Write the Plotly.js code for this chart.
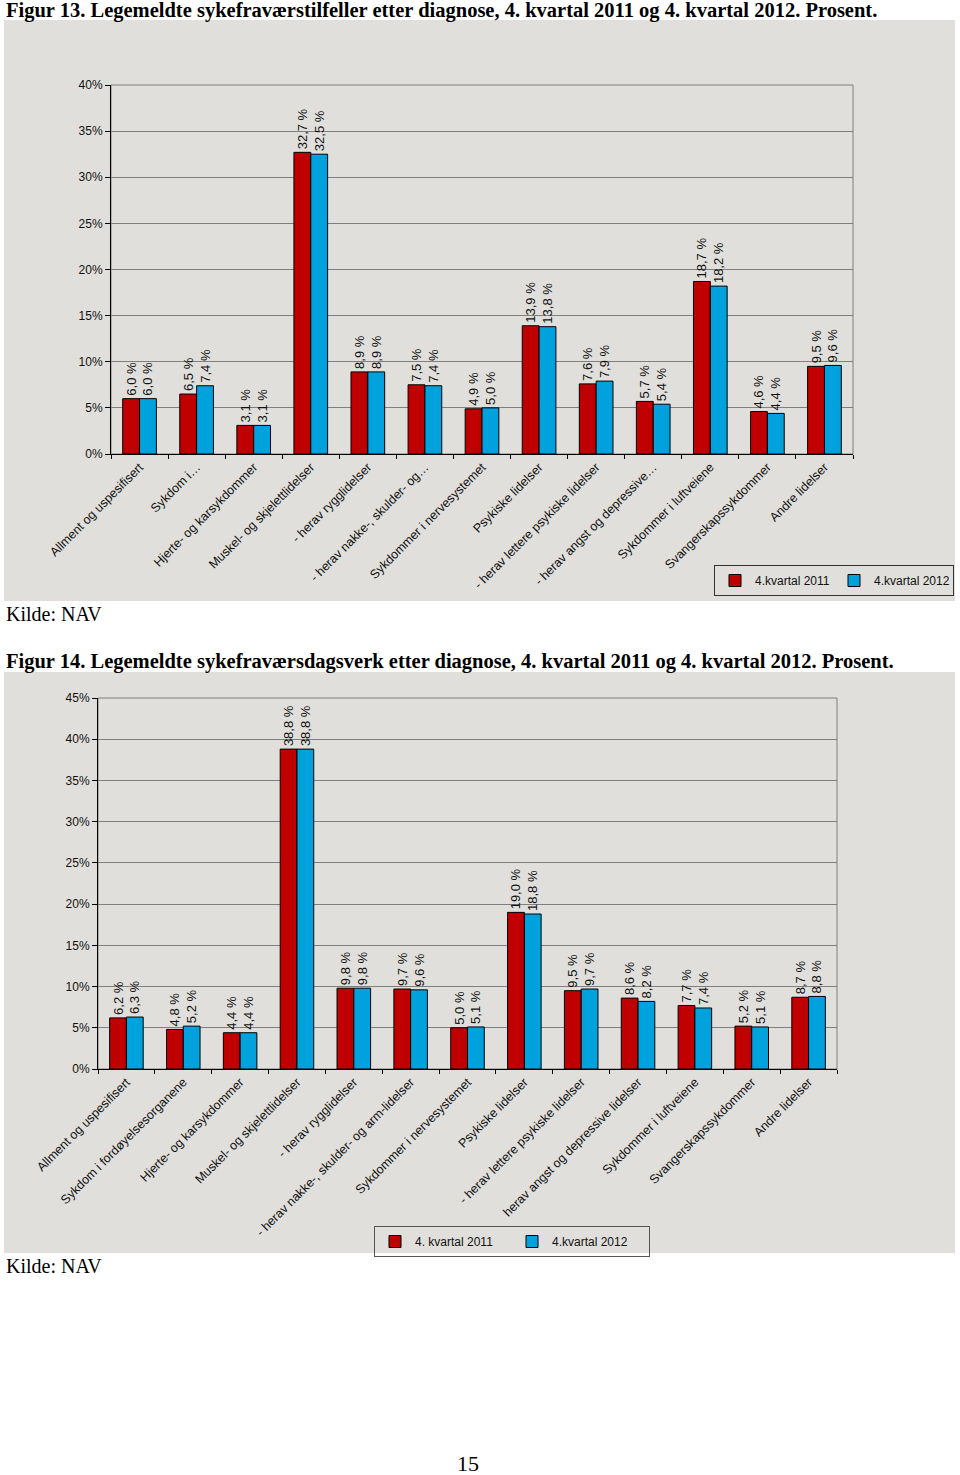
<!DOCTYPE html>
<html><head><meta charset="utf-8">
<script src="https://cdn.plot.ly/plotly-3.0.1.min.js"></script>
<style>html,body{margin:0;padding:0;background:#fff;overflow:hidden;width:960px;height:1475px;}#chart{width:960px;height:1475px;overflow:hidden;}</style>
</head><body><div id="chart"></div>
<script>
// ---- Figur 13 data ----
const categories13 = ["Allment og uspesifisert","Sykdom i…","Hjerte- og karsykdommer","Muskel- og skjelettlidelser","- herav rygglidelser","- herav nakke-, skulder- og…","Sykdommer i nervesystemet","Psykiske lidelser","- herav lettere psykiske lidelser","- herav angst og depressive…","Sykdommer i luftveiene","Svangerskapssykdommer","Andre lidelser"];
const values13_2011 = [6.0,6.5,3.1,32.7,8.9,7.5,4.9,13.9,7.6,5.7,18.7,4.6,9.5];
const values13_2012 = [6.0,7.4,3.1,32.5,8.9,7.4,5.0,13.8,7.9,5.4,18.2,4.4,9.6];
const names13 = ["4.kvartal 2011","4.kvartal 2012"];
const yTicks13 = [0,5,10,15,20,25,30,35,40];

// ---- Figur 14 data ----
const categories14 = ["Allment og uspesifisert","Sykdom i fordøyelsesorganene","Hjerte- og karsykdommer","Muskel- og skjelettlidelser","- herav rygglidelser","- herav nakke-, skulder- og arm-lidelser","Sykdommer i nervesystemet","Psykiske lidelser","- herav lettere psykiske lidelser","herav angst og depressive lidelser","Sykdommer i luftveiene","Svangerskapssykdommer","Andre lidelser"];
const values14_2011 = [6.2,4.8,4.4,38.8,9.8,9.7,5.0,19.0,9.5,8.6,7.7,5.2,8.7];
const values14_2012 = [6.3,5.2,4.4,38.8,9.8,9.6,5.1,18.8,9.7,8.2,7.4,5.1,8.8];
const names14 = ["4. kvartal 2011","4.kvartal 2012"];
const yTicks14 = [0,5,10,15,20,25,30,35,40,45];

const W = 960, H = 1475;
const px = v => v / W;
const py = v => 1 - v / H;

const RED = "#C00000", BLUE = "#00A2DE", BG = "#E0DFDB";
const FONT = "Arial, Liberation Sans, sans-serif";
const lblFont = {family: FONT, size: 13, color: "#111"};

function barTrace(x, y, name, color, xa, ya, lg) {
  return {
    type: "bar", x: x, y: y, name: name, xaxis: xa, yaxis: ya, legend: lg,
    marker: {color: color, line: {color: "#000", width: 1}},
    texttemplate: "%{y:.1f} %", textposition: "outside", textangle: -90,
    textfont: lblFont, constraintext: "none", cliponaxis: false,
    hoverinfo: "x+y"
  };
}

const data = [
  barTrace(categories13, values13_2011, names13[0], RED, "x", "y", "legend"),
  barTrace(categories13, values13_2012, names13[1], BLUE, "x", "y", "legend"),
  barTrace(categories14, values14_2011, names14[0], RED, "x2", "y2", "legend2"),
  barTrace(categories14, values14_2012, names14[1], BLUE, "x2", "y2", "legend2")
];

const tickFont = {family: FONT, size: 12.5, color: "#111"};
const xCommon = {
  type: "category", tickangle: -45, tickfont: tickFont, showline: true, linecolor: "#000", linewidth: 1,
  ticks: "outside", ticklen: 4, tickcolor: "#000", tickson: "boundaries", showgrid: false, automargin: false, fixedrange: true
};
const yCommon = {
  tickfont: {family: FONT, size: 12, color: "#111"},
  showline: true, linecolor: "#000", linewidth: 1, ticks: "outside", ticklen: 5, tickcolor: "#000",
  showgrid: true, gridcolor: "#7f7f7f", gridwidth: 1, zeroline: false, automargin: false, fixedrange: true, tickmode: "array"
};

const layout = {
  width: W, height: H, margin: {l: 0, r: 0, t: 0, b: 0},
  paper_bgcolor: "#fff", plot_bgcolor: "rgba(0,0,0,0)",
  separators: ", ", barmode: "group", bargap: 0.41, bargroupgap: 0,
  showlegend: true,
  xaxis: Object.assign({}, xCommon, {domain: [px(111), px(853)], anchor: "y"}),
  yaxis: Object.assign({}, yCommon, {domain: [py(454), py(85)], range: [0, 40], tickvals: yTicks13, ticktext: yTicks13.map(v => v + "%"), anchor: "x"}),
  xaxis2: Object.assign({}, xCommon, {domain: [px(98), px(837)], anchor: "y2"}),
  yaxis2: Object.assign({}, yCommon, {domain: [py(1069), py(698)], range: [0, 45], tickvals: yTicks14, ticktext: yTicks14.map(v => v + "%"), anchor: "x2"}),
  legend: {
    orientation: "h", x: px(714), y: py(565), xanchor: "left", yanchor: "top",
    bgcolor: "rgba(0,0,0,0)", bordercolor: "#333", borderwidth: 1, entrywidth: 74,
    font: {family: FONT, size: 12, color: "#111"}, itemwidth: 30
  },
  legend2: {
    orientation: "h", x: px(374), y: py(1226), xanchor: "left", yanchor: "top",
    bgcolor: "rgba(0,0,0,0)", bordercolor: "#555", borderwidth: 1, entrywidth: 92,
    font: {family: FONT, size: 12, color: "#111"}, itemwidth: 30
  },
  shapes: [
    {type: "rect", xref: "paper", yref: "paper", x0: px(4), x1: px(955), y0: py(601), y1: py(20), fillcolor: BG, line: {width: 0}, layer: "below"},
    {type: "rect", xref: "paper", yref: "paper", x0: px(4), x1: px(955), y0: py(1253), y1: py(672), fillcolor: BG, line: {width: 0}, layer: "below"},
    {type: "rect", xref: "x domain", yref: "y domain", x0: 0, x1: 1, y0: 0, y1: 1, line: {color: "#7f7f7f", width: 1}, layer: "below"},
    {type: "rect", xref: "x2 domain", yref: "y2 domain", x0: 0, x1: 1, y0: 0, y1: 1, line: {color: "#7f7f7f", width: 1}, layer: "below"}
  ],
  annotations: [
    {xref: "paper", yref: "paper", x: px(4), y: py(11), xanchor: "left", yanchor: "middle", showarrow: false,
     text: "<b>Figur 13. Legemeldte sykefraværstilfeller etter diagnose, 4. kvartal 2011 og 4. kvartal 2012. Prosent.</b>",
     font: {family: "Liberation Serif, Times New Roman, serif", size: 20.5, color: "#000"}},
    {xref: "paper", yref: "paper", x: px(4), y: py(614), xanchor: "left", yanchor: "middle", showarrow: false,
     text: "Kilde: NAV", font: {family: "Liberation Serif, Times New Roman, serif", size: 20, color: "#000"}},
    {xref: "paper", yref: "paper", x: px(4), y: py(661), xanchor: "left", yanchor: "middle", showarrow: false,
     text: "<b>Figur 14. Legemeldte sykefraværsdagsverk etter diagnose, 4. kvartal 2011 og 4. kvartal 2012. Prosent.</b>",
     font: {family: "Liberation Serif, Times New Roman, serif", size: 20.5, color: "#000"}},
    {xref: "paper", yref: "paper", x: px(4), y: py(1266), xanchor: "left", yanchor: "middle", showarrow: false,
     text: "Kilde: NAV", font: {family: "Liberation Serif, Times New Roman, serif", size: 20, color: "#000"}},
    {xref: "paper", yref: "paper", x: px(468), y: py(1463), xanchor: "center", yanchor: "middle", showarrow: false,
     text: "15", font: {family: "Liberation Serif, Times New Roman, serif", size: 22, color: "#000"}}
  ]
};

Plotly.newPlot("chart", data, layout, {staticPlot: true, displayModeBar: false});
</script>
</body></html>
